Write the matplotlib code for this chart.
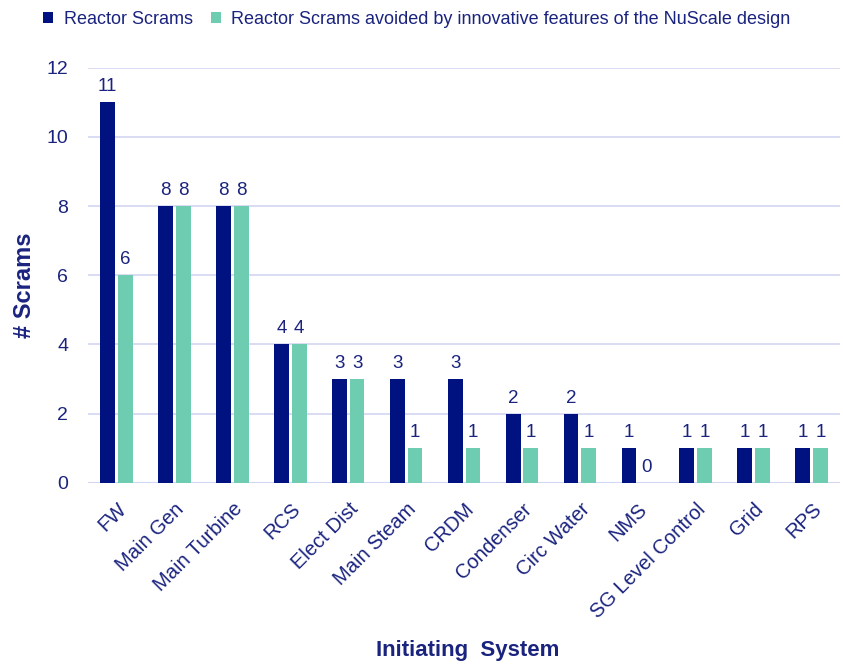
import matplotlib.pyplot as plt
import numpy as np

plt.rcParams['font.family'] = ['Liberation Sans', 'DejaVu Sans']

# ------------ donnees ----------
systems = ['FW', 'Main Gen', 'Main Turbine', 'RCS', 'Elect Dist', 'Main Steam',
           'CRDM', 'Condenser', 'Circ Water', 'NMS', 'SG Level Control', 'Grid', 'RPS']
scrams = [11, 8, 8, 4, 3, 3, 3, 2, 2, 1, 1, 1, 1]
avoided = [6, 8, 8, 4, 3, 1, 1, 1, 1, 0, 1, 1, 1]
yticks = [0, 2, 4, 6, 8, 10, 12]

navy = '#00127f'
green = '#6ecdb0'
txt = '#1a237e'
grid = '#d3d6f2'

fig = plt.figure(figsize=(8.43, 6.64), dpi=100)
ax = fig.add_axes([0.104, 0.273, 0.893, 0.625])

x = np.arange(len(systems))
w = 0.255
b1 = ax.bar(x - w/2 - 0.025, scrams, w, color=navy, label='Reactor Scrams', zorder=3)
b2 = ax.bar(x + w/2 + 0.025, avoided, w, color=green,
            label='Reactor Scrams avoided by innovative features of the NuScale design', zorder=3)

# etiquettes de valeur au dessus des barres
for bars in (b1, b2):
  for r in bars:
    ax.annotate(str(int(r.get_height())), (r.get_x() + r.get_width()/2, r.get_height()),
                xytext=(0, 5), textcoords='offset points', ha='center', va='bottom',
                fontsize=13.5, color=txt)

ax.set_xlim(-0.5, len(systems) - 0.5)
ax.set_ylim(0, 12)
ax.set_yticks(yticks)
ax.yaxis.grid(True, color=grid, linewidth=1.2, zorder=0)
for s in ax.spines.values():
  s.set_visible(False)
ax.axhline(0, color=grid, linewidth=1.5, zorder=2)
ax.tick_params(length=0, labelsize=14, labelcolor=txt)
ax.tick_params(axis='y', pad=14)
ax.tick_params(axis='x', pad=12)
ax.set_xticks(x)
ax.set_xticklabels(systems, rotation=45, ha='right', rotation_mode='anchor', fontsize=14.5)

ax.set_ylabel('# Scrams', fontsize=17, fontweight='bold', color=txt)
ax.yaxis.set_label_coords(-0.069, 0.475)
ax.set_xlabel('Initiating  System', fontsize=16, fontweight='bold', color=txt)
ax.xaxis.set_label_coords(0.505, -0.378)

leg = fig.legend(loc='upper left', bbox_to_anchor=(0.038, 1.0), ncol=2, frameon=False,
                 fontsize=13, handlelength=0.55, handleheight=0.55, handletextpad=0.6,
                 columnspacing=1.0, labelcolor=txt, borderaxespad=0.2)

fig.savefig('out.png', dpi=100)
